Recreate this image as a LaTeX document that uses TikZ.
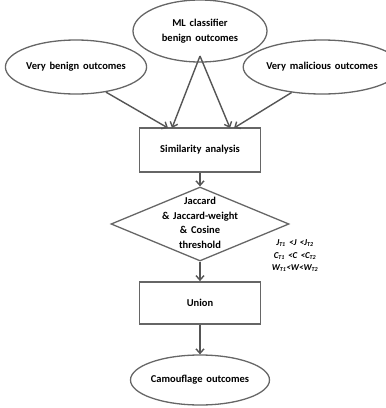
\documentclass[tikz,border=0pt]{standalone}
\usepackage{fontspec}
\setmainfont{Carlito}[WordSpace=1.6]
\usetikzlibrary{shapes.geometric,arrows.meta}
\definecolor{edge}{HTML}{666666}
\definecolor{arr}{HTML}{555555}
\tikzset{
  lbl/.style={font=\bfseries\fontsize{10.5}{14.5}\selectfont,align=center},
  oval/.style={ellipse,draw=edge,line width=1.3pt,inner sep=0pt,lbl},
  boxnode/.style={rectangle,draw=edge,line width=1.8pt,inner sep=0pt,lbl},
  decide/.style={diamond,draw=edge,line width=1.3pt,inner sep=0pt},
  flow/.style={draw=arr,line width=1.4pt,-{Straight Barb[length=4.5pt,width=8pt,line width=1.4pt]}},
}
\begin{document}
\begin{tikzpicture}[x=1pt,y=-1pt]
\useasboundingbox (0,0) rectangle (386,408);
\node[oval,minimum width=134pt,minimum height=62pt] (ml) at (200,31) {ML classifier\\benign outcomes};
\node[oval,minimum width=128pt,minimum height=54pt] (vb) at (76,67) {Very benign outcomes};
\node[oval,minimum width=130pt,minimum height=54pt] (vm) at (322,67) {Very malicious outcomes};
\node[boxnode,minimum width=121pt,minimum height=44pt] (sim) at (200,150) {Similarity analysis};
\node[decide,minimum width=178pt,minimum height=74pt,aspect=2.4] (thr) at (200,224) {};
\node[lbl] (thrtxt) at (200,223) {Jaccard\\\& Jaccard-weight\\\& Cosine\\threshold};
\node[boxnode,minimum width=121pt,minimum height=42pt] (uni) at (200,303) {Union};
\node[oval,minimum width=136pt,minimum height=50pt] (cam) at (200,380) {Camouflage outcomes};
\node[font=\bfseries\itshape\fontsize{9}{12.5}\selectfont,align=center] (cond) at (295,256)
  {J\textsubscript{T1} <J <J\textsubscript{T2}\\C\textsubscript{T1} <C <C\textsubscript{T2}\\W\textsubscript{T1}<W<W\textsubscript{T2}};
\coordinate (mlb) at (200,56);
\coordinate (s1) at (168,128);
\coordinate (s2) at (172,128);
\coordinate (s3) at (230,128);
\coordinate (s4) at (234,128);
\draw[flow] (vb.-40) -- (s1);
\draw[flow] (mlb) -- (s2);
\draw[flow] (mlb) -- (s3);
\draw[flow] (vm.-140) -- (s4);
\draw[flow] (sim.south) -- (thr.north);
\draw[flow] (thr.south) -- (uni.north);
\draw[flow] (uni.south) -- (cam.north);
\end{tikzpicture}
\end{document}
